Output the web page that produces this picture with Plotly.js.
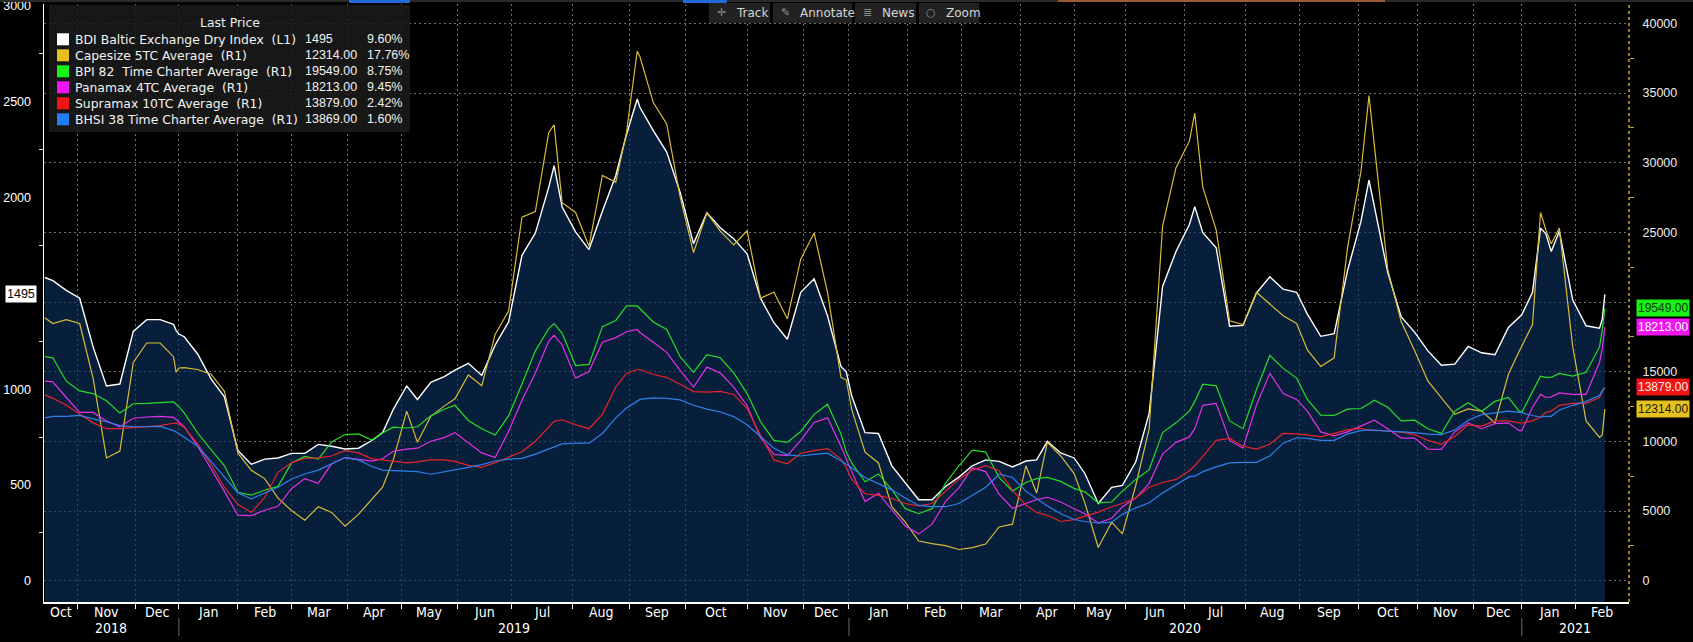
<!DOCTYPE html>
<html><head><meta charset="utf-8">
<script src="https://cdn.plot.ly/plotly-3.0.1.min.js"></script>
<style>html,body{margin:0;padding:0;background:#000;overflow:hidden}#chart{width:1693px;height:642px}</style>
</head><body><div id="chart"></div>
<script>
// ---------------- DATA ----------------
const dates = [
'2018-10-16','2018-10-19','2018-10-26','2018-11-02','2018-11-09','2018-11-16','2018-11-23','2018-11-30','2018-12-07','2018-12-14',
'2018-12-21','2018-12-24','2019-01-02','2019-01-04','2019-01-11','2019-01-18','2019-01-25','2019-02-01','2019-02-08','2019-02-15',
'2019-02-22','2019-03-01','2019-03-08','2019-03-15','2019-03-22','2019-03-29','2019-04-05','2019-04-12','2019-04-18','2019-04-26',
'2019-05-03','2019-05-10','2019-05-17','2019-05-24','2019-05-31','2019-06-07','2019-06-14','2019-06-21','2019-06-28','2019-07-05',
'2019-07-12','2019-07-19','2019-07-23','2019-07-26','2019-08-02','2019-08-09','2019-08-16','2019-08-23','2019-08-30','2019-09-05',
'2019-09-06','2019-09-13','2019-09-20','2019-09-27','2019-10-04','2019-10-11','2019-10-18','2019-10-25','2019-11-01','2019-11-08',
'2019-11-15','2019-11-22','2019-11-29','2019-12-06','2019-12-13','2019-12-20','2019-12-24','2020-01-03','2020-01-10','2020-01-17',
'2020-01-24','2020-01-31','2020-02-07','2020-02-14','2020-02-21','2020-02-28','2020-03-06','2020-03-13','2020-03-20','2020-03-27',
'2020-04-03','2020-04-09','2020-04-17','2020-04-24','2020-05-01','2020-05-07','2020-05-15','2020-05-22','2020-05-29','2020-06-05',
'2020-06-12','2020-06-19','2020-06-26','2020-07-03','2020-07-07','2020-07-10','2020-07-17','2020-07-24','2020-07-31','2020-08-07',
'2020-08-14','2020-08-21','2020-08-28','2020-09-04','2020-09-11','2020-09-18','2020-09-25','2020-10-02','2020-10-07','2020-10-09',
'2020-10-16','2020-10-23','2020-10-30','2020-11-06','2020-11-13','2020-11-20','2020-11-27','2020-12-04','2020-12-11','2020-12-18',
'2020-12-24','2021-01-04','2021-01-08','2021-01-13','2021-01-15','2021-01-19','2021-01-22','2021-01-29','2021-02-05','2021-02-12','2021-02-15','2021-02-16'];

const bdi = [
1583,1567,1516,1475,1221,1017,1027,1302,1363,1363,
1339,1306,1288,1274,1184,1054,960,680,608,635,
641,665,665,712,702,688,692,732,773,895,
1017,946,1036,1066,1099,1135,1072,1231,1351,1699,
1815,2055,2167,1951,1821,1729,1929,2116,2330,2515,
2472,2350,2238,2028,1760,1921,1843,1786,1707,1475,
1347,1261,1506,1577,1383,1119,1091,966,773,769,
600,513,423,423,492,541,600,631,623,594,
625,631,728,667,641,560,403,488,498,621,
875,1536,1719,1860,1953,1817,1738,1329,1333,1502,
1587,1522,1506,1392,1276,1290,1620,1876,2092,1955,
1609,1379,1298,1200,1125,1131,1223,1190,1180,1322,
1379,1388,1506,1841,1811,1719,1825,1465,1331,1318,1364,1495];

const capesize = [
18880,18460,18740,18460,14540,8810,9300,15660,17060,17060,
16080,14960,15270,15300,15160,14820,13590,9170,7920,7330,
5930,5040,4340,5310,4900,3920,4760,5870,6710,8670,
12170,9930,11800,12530,13060,14770,13990,17680,19360,26100,
26490,32170,32720,27130,26430,24000,29090,28590,32170,38000,
37620,34320,32780,27550,23550,26400,25090,24110,25120,20280,
20700,18800,23080,24950,20700,14600,14400,12310,9230,8450,
5310,4200,2850,2660,2520,2240,2380,2630,3860,4060,
8250,6290,9930,8950,7690,5590,2380,4200,3360,6850,
10910,25450,29650,31550,33560,28250,25170,18660,18380,20700,
19860,19020,18460,16560,15380,16000,23910,29370,34820,31190,
22320,18600,16530,14320,13170,11940,12330,12170,11330,14820,
16450,16840,18380,26430,25170,24190,25310,16780,11470,10290,10457,12314];

const bpi82 = [
16080,16000,14320,13620,13430,12920,12030,12700,12730,12780,
12840,12670,12500,12050,10600,9400,8250,6350,6150,6490,
6770,8450,8920,8730,9960,10490,10540,10100,10600,11020,
10960,11050,11830,12310,12590,11500,10910,10460,11830,14120,
16500,18100,18460,17760,15440,15520,18240,18680,19720,19720,
19520,18570,18040,16080,14960,16220,16000,14910,13430,11410,
10070,9930,10710,11940,12670,10540,9230,8450,7100,7660,
6540,5170,4810,5170,6990,8250,9370,9230,7410,6430,
7050,7330,7410,7130,6630,6380,5590,5650,6430,7270,
7970,10630,11330,12170,12870,14100,13990,11470,10910,13710,
16170,15240,14540,13010,11890,11860,12310,12360,12700,12950,
12450,11470,11520,10910,10570,12170,12780,12170,12870,13150,
12170,12080,13570,14680,14600,14600,14880,14680,14960,16780,17976,19549];

const panamax4tc = [
14320,14270,13150,12080,12080,11470,11050,11660,11750,11800,
11720,11550,11380,11050,9650,8080,6410,4700,4670,5060,
5340,6600,7330,6990,8390,8840,8730,8590,8750,9290,
9450,9510,10010,10270,10630,9900,9170,8840,10710,12950,
14910,17200,17620,16920,14540,15020,17120,17450,17870,18040,
17820,17120,16390,15100,13900,15330,14910,13900,12560,10270,
9060,8980,10070,11360,11690,9650,8730,7830,5680,6270,
5090,3920,3360,4060,5680,6660,8110,7830,6210,5200,
5540,5820,5990,5650,5170,4810,4140,4480,5310,5930,
6990,9090,9930,10320,10910,12590,12730,10070,9510,12590,
14880,13430,13010,12170,10680,10400,10680,11100,11330,11520,
10910,10240,10240,9450,9430,10680,11330,10910,11270,11330,
10770,10770,12450,13370,13150,13200,13480,13370,13370,15660,16640,18213];

const supramax10tc = [
13340,13090,12590,11940,11330,10910,10910,10990,11050,11130,
11300,11330,11240,11020,9820,8340,6710,5480,4900,5960,
7780,8470,8780,8810,8950,9340,9170,8750,8670,8590,
8450,8530,8670,8670,8560,8280,8140,8470,8870,9260,
10010,11080,11440,11550,11190,10910,11940,13900,14880,15160,
15160,14800,14600,14100,13570,13540,13590,13370,12360,10430,
8670,8390,9150,9340,9480,8730,8110,7270,6240,6130,
5900,5540,5370,5540,6380,7270,7940,8250,7890,6490,
5430,4900,4700,4250,4390,4620,4920,5310,5540,5930,
6710,7050,7270,7890,8250,8920,10070,10210,9650,9450,
9790,10570,10540,10460,10320,10570,10820,10940,10800,10800,
10740,10660,10490,10070,9790,10350,11190,11100,11470,11470,
11330,11330,11470,11750,12080,12170,12590,12730,12730,13150,13551,13879];

const bhsi38 = [
11690,11800,11800,11860,11610,11410,11130,11050,11050,11080,
10770,10690,10560,10290,9650,8560,7440,6320,5870,6290,
6710,7300,7660,7940,8390,8840,8670,8200,7940,7890,
7830,7830,7640,7800,7940,8140,8330,8590,8730,8780,
9090,9480,9620,9820,9870,9870,10570,11690,12390,12890,
13010,13120,13090,12980,12590,12310,12110,11780,11190,10350,
9510,9030,8950,9060,9150,8610,8390,8110,7410,6940,
6520,5930,5400,5310,5310,5540,6100,6710,7640,7410,
6430,5870,5370,4810,4390,4250,4140,4200,4760,5230,
5590,6290,6850,7470,7500,7830,8170,8450,8500,8500,
8950,9870,10260,10210,10070,10070,10540,10770,10820,10800,
10710,10690,10630,10520,10490,10820,11520,11920,12060,12170,
12080,12060,11860,11750,11800,11800,12250,12590,12870,13290,13651,13869];

const seriesNames = ['BDI Baltic Exchange Dry Index\u00a0 (L1)','Capesize 5TC Average\u00a0 (R1)','BPI 82\u00a0 Time Charter Average\u00a0 (R1)',
  'Panamax 4TC Average\u00a0 (R1)','Supramax 10TC Average\u00a0 (R1)','BHSI 38 Time Charter Average\u00a0 (R1)'];
const pctChanges = ['9.60%','17.76%','8.75%','9.45%','2.42%','1.60%'];
const legendTitle = 'Last Price';
const monthLabels = ['Jan','Feb','Mar','Apr','May','Jun','Jul','Aug','Sep','Oct','Nov','Dec'];
const leftTicks = [0,500,1000,1500,2000,2500,3000];
const rightTicks = [0,5000,10000,15000,20000,25000,30000,35000,40000];
const holidays = ['2018-12-25','2018-12-26','2018-12-27','2018-12-28','2018-12-31','2019-01-01','2019-04-19','2019-04-22','2019-05-06','2019-05-27','2019-08-26',
  '2019-12-25','2019-12-26','2019-12-27','2019-12-30','2019-12-31','2020-01-01','2020-04-10','2020-04-13','2020-05-08','2020-05-25','2020-08-31',
  '2020-12-25','2020-12-28','2020-12-29','2020-12-30','2020-12-31','2021-01-01'];
const toolbarItems = [['\u271B','Track'],['\u270E','Annotate'],['\u2263','News'],['\u25CB','Zoom']];

// ---------------- trading-day calendar (x axis skips non-trading days) ----------------
const hol = new Set(holidays);
const tradingDays = [];
for (let d = new Date(Date.UTC(2018,9,15)); d <= new Date(Date.UTC(2021,2,31)); d.setUTCDate(d.getUTCDate()+1)) {
  const wd = d.getUTCDay(), s = d.toISOString().slice(0,10);
  if (wd !== 0 && wd !== 6 && !hol.has(s)) tradingDays.push(s);
}
const dayIdx = {}; tradingDays.forEach((s,i)=>dayIdx[s]=i);
const xs = dates.map(s=>dayIdx[s]);

// ---------------- geometry ----------------
const W=1693, H=642, M={l:44,r:64,t:4,b:40};
const PW=W-M.l-M.r, PH=H-M.t-M.b;
const px2x = px => (px-M.l)/PW;
const py2y = py => (H-M.b-py)/PH;
const xr0 = xs[0]-0.31, xr1 = xs[xs.length-1]+9;
const pxPerDay = PW/(xr1-xr0);
const LEFT_RANGE=[-111,3011], RIGHT_RANGE=[-1529,41394];
const pxPerLeft = PH/(LEFT_RANGE[1]-LEFT_RANGE[0]), pxPerRight = PH/(RIGHT_RANGE[1]-RIGHT_RANGE[0]);

const lineColors = ['#ffffff','#d8bb3a','#27dd27','#e530e5','#e8242b','#2f80ea'];
const swatchColors = ['#ffffff','#e6c020','#18f018','#f014f0','#f01414','#1f7cf2'];
const tagText = ['#000000','#1a1a00','#063806','#ffffff','#ffe8e8','#ffffff'];
const FONT = 'Liberation Sans, Arial, sans-serif';
const UIFONT = 'DejaVu Sans, sans-serif';
const NARROW = 'DejaVu Sans Condensed, Liberation Sans Narrow, Roboto Condensed, DejaVu Sans, sans-serif';

const series = [bdi,capesize,bpi82,panamax4tc,supramax10tc,bhsi38];
const lastOf = s => s[s.length-1];
const lastVals = series.map((s,i)=> i===0 ? String(lastOf(s)) : lastOf(s).toFixed(2));
const tagSeries=[2,3,4,1];

// tick labels hidden where a value tag sits on top of them (as in the reference)
const leftText = leftTicks.map(v => Math.abs(v-lastOf(bdi))*pxPerLeft < 15 ? '' : String(v));
const rightText = rightTicks.map(v => tagSeries.some(i=>Math.abs(v-lastOf(series[i]))*pxPerRight < 14) ? '' : String(v));

// ---------------- traces ----------------
const traces = [];
traces.push({x:xs, y:xs.map(()=>LEFT_RANGE[0]), mode:'lines', line:{width:0,color:'rgba(0,0,0,0)'}, hoverinfo:'skip', showlegend:false});
traces.push({x:xs, y:bdi, mode:'lines', fill:'tonexty', fillcolor:'rgba(13,50,97,0.62)', line:{color:lineColors[0],width:1.4}, hoverinfo:'skip', showlegend:false});
[capesize,bpi82,panamax4tc,supramax10tc,bhsi38].forEach((s,k)=>{
  traces.push({x:xs, y:s, yaxis:'y2', mode:'lines', line:{color:lineColors[k+1],width:1.2}, hoverinfo:'skip', showlegend:false});
});
// tick triangles
traces.push({x:leftTicks.map(()=>xr0-4/pxPerDay), y:leftTicks, mode:'markers', cliponaxis:false,
  marker:{symbol:'triangle-left',size:7,color:'#ffffff'}, hoverinfo:'skip', showlegend:false});
traces.push({x:rightTicks.map(()=>xr1+6/pxPerDay), y:rightTicks, yaxis:'y2', mode:'markers', cliponaxis:false,
  marker:{symbol:'triangle-right',size:7,color:'#d9b53a'}, hoverinfo:'skip', showlegend:false});
// tag pointers
traces.push({x:[xr0-3/pxPerDay], y:[lastOf(bdi)], mode:'markers', cliponaxis:false,
  marker:{symbol:'triangle-right',size:11,color:'#ffffff'}, hoverinfo:'skip', showlegend:false});
traces.push({x:tagSeries.map(()=>xr1+6/pxPerDay), y:tagSeries.map(i=>lastOf(series[i])), yaxis:'y2', mode:'markers', cliponaxis:false,
  marker:{symbol:'triangle-left',size:12,color:tagSeries.map(i=>swatchColors[i])}, hoverinfo:'skip', showlegend:false});

// ---------------- month / year structure ----------------
const monthStarts=[], yearStarts=[];
let pm='', py='';
tradingDays.forEach((s,i)=>{
  if (s.slice(0,7)!==pm){monthStarts.push({i, m:+s.slice(5,7)}); pm=s.slice(0,7);}
  if (s.slice(0,4)!==py){yearStarts.push({i, y:s.slice(0,4)}); py=s.slice(0,4);}
});
const monthTicks = monthStarts.map(o=>o.i).filter(i=>i>xr0 && i<xr1);

const shapes=[], annotations=[];
function periodLabels(starts, textOf, ypx, size){
  starts.forEach((o,k)=>{
    const a=Math.max(o.i,xr0), b=Math.min(k+1<starts.length?starts[k+1].i:Infinity, xr1);
    if (b>a) annotations.push({x:(a+b)/2, xref:'x', y:py2y(ypx), yref:'paper', text:textOf(o), showarrow:false,
      xanchor:'center', yanchor:'middle', font:{family:NARROW,size:size,color:'#ffffff'}});
  });
}
periodLabels(monthStarts, o=>monthLabels[o.m-1], 612, 14);
periodLabels(yearStarts, o=>o.y, 628, 14);
yearStarts.filter(o=>o.i>xr0 && o.i<xr1).forEach(o=>{
  shapes.push({type:'line', xref:'x', yref:'paper', x0:o.i, x1:o.i, y0:py2y(618), y1:py2y(636), line:{color:'#6a6a6a',width:1}});
});

// right axis dotted line
shapes.push({type:'line', xref:'paper', yref:'paper', x0:1, x1:1, y0:0, y1:1, line:{color:'#c9a93a',width:1.5,dash:'dot'}});

// top UI strip
shapes.push({type:'rect', xref:'paper', yref:'paper', x0:px2x(0), x1:px2x(W), y0:py2y(2), y1:py2y(0), fillcolor:'#2a2a2a', line:{width:0}, layer:'above'});
[[349,410],[683,727]].forEach(([a,b])=>shapes.push({type:'rect', xref:'paper', yref:'paper', x0:px2x(a), x1:px2x(b), y0:py2y(3), y1:py2y(0), fillcolor:'#1f6ad8', line:{width:0}, layer:'above'}));
shapes.push({type:'rect', xref:'paper', yref:'paper', x0:px2x(1058), x1:px2x(1385), y0:py2y(2), y1:py2y(0), fillcolor:'#9a5a36', line:{width:0}, layer:'above'});
// toolbar
const tbBoxes=[[709,770],[773,852],[855,916],[919,979]];
toolbarItems.forEach(([icon,label],k)=>{
  const [a,b]=tbBoxes[k];
  shapes.push({type:'rect', xref:'paper', yref:'paper', x0:px2x(a), x1:px2x(b), y0:py2y(23), y1:py2y(3), fillcolor:'#222222', line:{width:0}, layer:'above'});
  annotations.push({x:px2x(a+12), xref:'paper', y:py2y(13), yref:'paper', text:icon, showarrow:false, xanchor:'center', yanchor:'middle', font:{family:UIFONT,size:11,color:'#8c8c8c'}});
  annotations.push({x:px2x(a+25), xref:'paper', y:py2y(13), yref:'paper', text:label, showarrow:false, xanchor:'left', yanchor:'middle', font:{family:UIFONT,size:12,color:'#d4d4d4'}});
});

// legend box
shapes.push({type:'rect', xref:'paper', yref:'paper', x0:px2x(49), x1:px2x(410), y0:py2y(132), y1:py2y(5), fillcolor:'rgba(26,26,26,0.88)', line:{width:0}, layer:'above'});
annotations.push({x:px2x(230), xref:'paper', y:py2y(23), yref:'paper', text:legendTitle, showarrow:false, xanchor:'center', yanchor:'middle', font:{family:UIFONT,size:12.4,color:'#eeeeee'}});
seriesNames.forEach((name,i)=>{
  const cy=39.3+16*i;
  shapes.push({type:'rect', xref:'paper', yref:'paper', x0:px2x(57), x1:px2x(69), y0:py2y(cy+6), y1:py2y(cy-6), fillcolor:swatchColors[i], line:{width:0}, layer:'above'});
  [[73,name,UIFONT,12.4],[303,lastVals[i],FONT,12.5],[365,pctChanges[i],FONT,12.5]].forEach(([xp,t,f,sz])=>{
    annotations.push({x:px2x(xp), xref:'paper', y:py2y(cy), yref:'paper', text:t, showarrow:false, xanchor:'left', yanchor:'middle', font:{family:f,size:sz,color:'#f2f2f2'}});
  });
});

// value tags
annotations.push({x:px2x(5), xref:'paper', y:lastOf(bdi), yref:'y', text:lastVals[0], showarrow:false, xanchor:'left', yanchor:'middle',
  bgcolor:'#ffffff', borderpad:1, font:{family:FONT,size:12.5,color:'#000000'}});
tagSeries.forEach(i=>{
  annotations.push({x:px2x(1636), xref:'paper', y:lastOf(series[i]), yref:'y2', text:lastVals[i], showarrow:false, xanchor:'left', yanchor:'middle',
    bgcolor:swatchColors[i], borderpad:1, font:{family:FONT,size:12,color:tagText[i]}});
});

const mid = arr => arr.slice(0,-1).map((v,k)=>(v+arr[k+1])/2);
const gridStyle = {showgrid:true, gridcolor:'rgba(150,150,150,0.75)', griddash:'2px,3px', gridwidth:1};

const layout = {
  width:W, height:H, margin:M, paper_bgcolor:'#000000', plot_bgcolor:'#000000', showlegend:false, hovermode:false,
  xaxis:Object.assign({range:[xr0,xr1], tickmode:'array', tickvals:monthTicks, showticklabels:false, ticks:'outside', ticklen:5, tickcolor:'#ffffff', tickwidth:1,
    showline:true, linecolor:'#ffffff', linewidth:1.5, zeroline:false, fixedrange:true}, gridStyle),
  yaxis:{range:LEFT_RANGE, tickmode:'array', tickvals:leftTicks, ticktext:leftText, ticks:'outside', ticklen:9, tickcolor:'rgba(0,0,0,0)',
    showline:true, linecolor:'#ffffff', linewidth:1.5, showgrid:false, zeroline:false, fixedrange:true, ticklabeloverflow:'allow',
    tickfont:{family:FONT,size:12.5,color:'#ffffff'},
    minor:{tickmode:'array', tickvals:mid(leftTicks), ticks:'outside', ticklen:4, tickcolor:'#dddddd', showgrid:false}},
  yaxis2:Object.assign({overlaying:'y', side:'right', range:RIGHT_RANGE, tickmode:'array', tickvals:rightTicks, ticktext:rightText,
    ticks:'outside', ticklen:10, tickcolor:'rgba(0,0,0,0)', showline:false, zeroline:false, fixedrange:true, ticklabeloverflow:'allow',
    tickfont:{family:FONT,size:12.5,color:'#eeeeee'},
    minor:{tickmode:'array', tickvals:mid(rightTicks), ticks:'outside', ticklen:4, tickcolor:'#c9a93a', showgrid:false}}, gridStyle),
  shapes:shapes, annotations:annotations
};

Plotly.newPlot('chart', traces, layout, {staticPlot:true, displayModeBar:false});
</script></body></html>
